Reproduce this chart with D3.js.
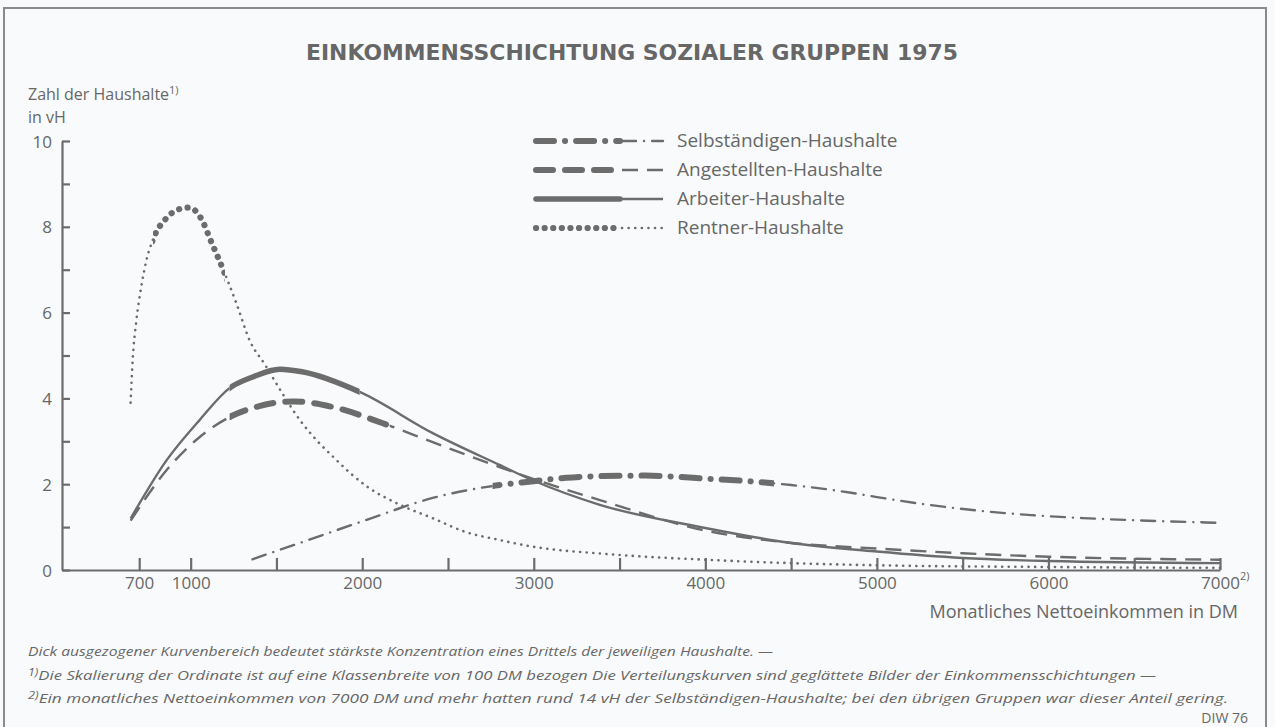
<!DOCTYPE html>
<html>
<head>
<meta charset="utf-8">
<script src="https://cdn.jsdelivr.net/npm/d3@7"></script>
<style>
  body { margin: 0; background: #f8fafb; }
  text { fill: #676767; font-family: "Open Sans", sans-serif; }
</style>
</head>
<body>
<div id="chart"></div>
<script>
// Canvas size
var svgWidth = 1275;
var svgHeight = 727;
var ink = "#6c6c6c";

// ---- data (income in DM, share in vH) ----
var seriesNames = ["Selbständigen-Haushalte", "Angestellten-Haushalte", "Arbeiter-Haushalte", "Rentner-Haushalte"];

var selbIncome = [1360, 1636, 2026, 2411, 2800, 3000, 3190, 3400, 3650, 3800, 4000, 4250, 4500, 4850, 5000, 5300, 5600, 5900, 6200, 6500, 7000];
var selbShare  = [0.25, 0.63, 1.17, 1.68, 1.98, 2.07, 2.15, 2.19, 2.2, 2.18, 2.13, 2.07, 1.98, 1.8, 1.7, 1.52, 1.38, 1.28, 1.21, 1.16, 1.1];

var angIncome = [650, 860, 1053, 1245, 1400, 1536, 1600, 1828, 2120, 2411, 2800, 3000, 3385, 4000, 4480, 5000, 5500, 6000, 7000];
var angShare  = [1.15, 2.33, 3.1, 3.6, 3.82, 3.92, 3.93, 3.8, 3.42, 2.98, 2.4, 2.12, 1.63, 0.92, 0.64, 0.5, 0.39, 0.31, 0.24];

var arbIncome = [650, 860, 1053, 1227, 1362, 1520, 1650, 1985, 2411, 2800, 3000, 3385, 4000, 4480, 5000, 5500, 6000, 7000];
var arbShare  = [1.2, 2.56, 3.5, 4.24, 4.5, 4.68, 4.62, 4.15, 3.19, 2.45, 2.08, 1.52, 0.98, 0.64, 0.43, 0.28, 0.21, 0.16];

var rentIncome = [650, 662, 683, 712, 741, 780, 858, 940, 990, 1060, 1120, 1200, 1268, 1344, 1431, 1537, 1636, 1740, 1830, 1930, 2030, 2220, 2410, 2600, 2800, 3000, 3400, 4000, 4500, 5000, 6000, 7000];
var rentShare  = [3.9, 4.9, 5.8, 6.6, 7.2, 7.7, 8.2, 8.42, 8.45, 8.2, 7.65, 6.9, 6.2, 5.35, 4.8, 4.1, 3.5, 3.0, 2.64, 2.26, 1.94, 1.52, 1.21, 0.89, 0.7, 0.54, 0.38, 0.24, 0.16, 0.11, 0.07, 0.05];

// income range of the thick drawn part (strongest third of households)
var selbBold = [2760, 4400];
var angBold  = [1227, 2160];
var arbBold  = [1227, 1985];
var rentBold = [780, 1200];

// ticks
var xTicks = [700, 1000, 1500, 2000, 2500, 3000, 3500, 4000, 4500, 5000, 5500, 6000, 6500, 7000];
var xTickLabels = [700, 1000, 2000, 3000, 4000, 5000, 6000, 7000];
var yTicks = [0, 1, 2, 3, 4, 5, 6, 7, 8, 9, 10];
var yTickLabels = [0, 2, 4, 6, 8, 10];

var footnotes = [
  ["", "Dick ausgezogener Kurvenbereich bedeutet stärkste Konzentration eines Drittels der jeweiligen Haushalte. —"],
  ["1)", "Die Skalierung der Ordinate ist auf eine Klassenbreite von 100 DM bezogen  Die Verteilungskurven sind geglättete Bilder der Einkommensschichtungen —"],
  ["2)", "Ein monatliches Nettoeinkommen von 7000 DM und mehr hatten rund 14 vH der Selbständigen-Haushalte; bei den übrigen Gruppen war dieser Anteil gering."]
];

// line styles per series: thin part and thick part
var styles = [
  { thin: { w: 2.4, dash: "14,8,0.1,8", cap: "round" }, thick: { w: 6, dash: "18,11,0.1,11", cap: "round" } },
  { thin: { w: 2.4, dash: "16,9", cap: "butt" },        thick: { w: 6, dash: "17,12", cap: "round" } },
  { thin: { w: 2.4, dash: null, cap: "butt" },          thick: { w: 5.5, dash: null, cap: "round" } },
  { thin: { w: 2.6, dash: "0.1,6.5", cap: "round" },    thick: { w: 6.2, dash: "0.1,8.5", cap: "round" } }
];

var series = [
  { name: seriesNames[0], xs: selbIncome, ys: selbShare, bold: selbBold },
  { name: seriesNames[1], xs: angIncome,  ys: angShare,  bold: angBold },
  { name: seriesNames[2], xs: arbIncome,  ys: arbShare,  bold: arbBold },
  { name: seriesNames[3], xs: rentIncome, ys: rentShare, bold: rentBold }
];

var svg = d3.select("#chart").append("svg")
  .attr("width", svgWidth)
  .attr("height", svgHeight);

// frame
svg.append("rect")
  .attr("x", 4).attr("y", 8)
  .attr("width", 1262).attr("height", 760)
  .attr("fill", "none")
  .attr("stroke", "#8a8a8a")
  .attr("stroke-width", 2);

// scales
var xScale = d3.scaleLinear().domain([250, 7000]).range([62, 1220]);
var yScale = d3.scaleLinear().domain([0, 10]).range([570, 141]);

// title
svg.append("text")
  .attr("x", 632).attr("y", 60)
  .attr("text-anchor", "middle")
  .attr("textLength", 652)
  .attr("lengthAdjust", "spacingAndGlyphs")
  .style("font-family", "'DejaVu Sans', sans-serif")
  .style("font-weight", "bold")
  .style("font-size", "21px")
  .text("EINKOMMENSSCHICHTUNG SOZIALER GRUPPEN 1975");

// y axis title
var yTitle = svg.append("text")
  .attr("x", 28).attr("y", 100)
  .style("font-size", "16px")
  .text("Zahl der Haushalte");
yTitle.append("tspan").attr("dy", -6).style("font-size", "11px").text("1)");
svg.append("text")
  .attr("x", 28).attr("y", 123)
  .style("font-size", "16px")
  .text("in vH");

// axes
var leftAxis = d3.axisLeft(yScale)
  .tickValues(yTicks)
  .tickSize(-8)
  .tickSizeOuter(0)
  .tickPadding(10)
  .tickFormat(d => yTickLabels.includes(d) ? d : "");

var bottomAxis = d3.axisBottom(xScale)
  .tickValues(xTicks)
  .tickSize(-12)
  .tickSizeOuter(0)
  .tickPadding(7)
  .tickFormat(d => xTickLabels.includes(d) ? d : "");

var gy = svg.append("g")
  .attr("transform", "translate(62,0)")
  .call(leftAxis);
var gx = svg.append("g")
  .attr("transform", "translate(0,570)")
  .call(bottomAxis);

[gx, gy].forEach(function(g) {
  g.selectAll("path, line").attr("stroke", ink).attr("stroke-width", 2.2);
  g.selectAll("text")
    .attr("fill", "#676767")
    .style("font-family", "'Open Sans', sans-serif")
    .style("font-size", "17px");
});
gy.selectAll("text").attr("dy", "0.36em");

// superscript after 7000
svg.append("text")
  .attr("x", xScale(7000) + 20).attr("y", 580)
  .style("font-size", "11px")
  .text("2)");

// x axis title
svg.append("text")
  .attr("x", 1238).attr("y", 618)
  .attr("text-anchor", "end")
  .style("font-size", "18px")
  .text("Monatliches Nettoeinkommen in DM");

// clip paths for thick / thin parts
var defs = svg.append("defs");
series.forEach(function(s, i) {
  var b0 = xScale(s.bold[0]), b1 = xScale(s.bold[1]);
  defs.append("clipPath").attr("id", "bold" + i)
    .append("rect").attr("x", b0).attr("y", 0).attr("width", b1 - b0).attr("height", svgHeight);
  var thin = defs.append("clipPath").attr("id", "thin" + i);
  thin.append("rect").attr("x", 0).attr("y", 0).attr("width", b0).attr("height", svgHeight);
  thin.append("rect").attr("x", b1).attr("y", 0).attr("width", svgWidth - b1).attr("height", svgHeight);
});

var line = d3.line()
  .x(d => xScale(d[0]))
  .y(d => yScale(d[1]))
  .curve(d3.curveMonotoneX);

function applyStyle(sel, st) {
  sel.attr("fill", "none")
    .attr("stroke", ink)
    .attr("stroke-width", st.w)
    .attr("stroke-linecap", st.cap)
    .attr("stroke-linejoin", "round")
    .attr("stroke-dasharray", st.dash);
}

var curves = svg.append("g");
series.forEach(function(s, i) {
  var pts = d3.zip(s.xs, s.ys);
  curves.append("path")
    .datum(pts)
    .attr("d", line)
    .attr("clip-path", "url(#thin" + i + ")")
    .call(applyStyle, styles[i].thin);
  curves.append("path")
    .datum(pts)
    .attr("d", line)
    .attr("clip-path", "url(#bold" + i + ")")
    .call(applyStyle, styles[i].thick);
});

// legend
var legendY = [141, 170, 199, 228];
var legend = svg.append("g");
series.forEach(function(s, i) {
  var ly = legendY[i];
  legend.append("path")
    .attr("d", d3.line()([[536, ly], [620, ly]]))
    .call(applyStyle, styles[i].thick);
  legend.append("path")
    .attr("d", d3.line()([[622, ly], [663, ly]]))
    .call(applyStyle, styles[i].thin);
  legend.append("text")
    .attr("x", 677).attr("y", ly + 6)
    .style("font-size", "19px")
    .text(s.name);
});

// footnotes
var noteY = [656, 680, 703];
var noteLen = [745, 1128, 1200];
footnotes.forEach(function(n, i) {
  var t = svg.append("text")
    .attr("x", 28).attr("y", noteY[i])
    .attr("textLength", noteLen[i])
    .attr("lengthAdjust", "spacingAndGlyphs")
    .style("font-style", "italic")
    .style("font-size", "13.5px");
  if (n[0]) t.append("tspan").attr("dy", -4).style("font-size", "10px").text(n[0]);
  t.append("tspan")
    .attr("dy", n[0] ? 4 : 0)
    .text(n[1]);
});
svg.append("text")
  .attr("x", 1248).attr("y", 723)
  .attr("text-anchor", "end")
  .style("font-size", "14px")
  .text("DIW 76");
</script>
</body>
</html>
